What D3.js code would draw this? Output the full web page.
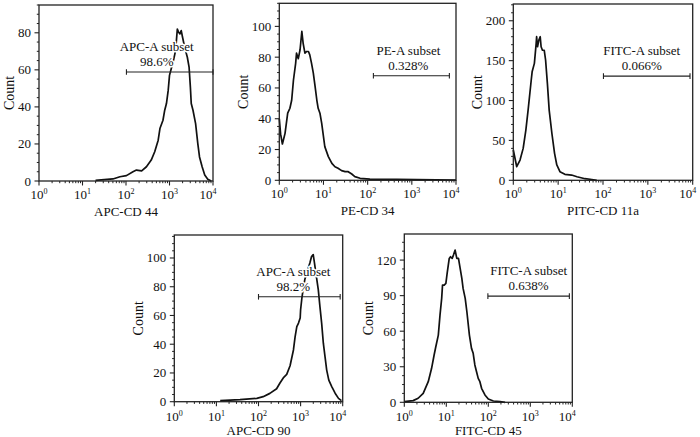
<!DOCTYPE html>
<html>
<head>
<meta charset="utf-8">
<script src="https://cdn.jsdelivr.net/npm/d3@7"></script>
<style>
  html, body { margin: 0; padding: 0; background: #fff; }
  svg { display: block; }
  text { font-family: "Liberation Serif", "Times New Roman", serif; fill: #111; }
</style>
</head>
<body>
<svg id="chart" width="700" height="437"></svg>
<script>
// ---------------- DATA ----------------
const panelTitles = ["APC-CD 44", "PE-CD 34", "PITC-CD 11a", "APC-CD 90", "FITC-CD 45"];
const yLabel = "Count";
const xTickExponents = [0, 1, 2, 3, 4];

const yTicksCD44 = [0, 20, 40, 60, 80];
const yTicksCD34 = [0, 20, 40, 60, 80, 100];
const yTicksCD11a = [0, 50, 100, 150, 200];
const yTicksCD90 = [0, 20, 40, 60, 80, 100];
const yTicksCD45 = [0, 30, 60, 90, 120];

// histogram: log10 intensity and counts
const cd44Exp = [1.30, 1.70, 1.86, 2.01, 2.16, 2.24, 2.36, 2.47, 2.58, 2.66, 2.74, 2.78, 2.85, 2.89, 2.93, 2.97, 3.00, 3.04, 3.09, 3.14, 3.18, 3.21, 3.24, 3.27, 3.30, 3.35, 3.41, 3.45, 3.48, 3.50, 3.54, 3.60, 3.65, 3.69, 3.75, 3.81, 3.88, 3.96];
const cd44Count = [0.3, 1.1, 2.3, 2.9, 5.0, 5.9, 5.5, 7.7, 11.3, 15.8, 22, 28.3, 32.8, 38.2, 41.8, 48.9, 57, 60.6, 65, 70.4, 82, 80.3, 79.4, 81.2, 77.6, 72, 66.8, 61.5, 50.7, 41.8, 38.2, 31, 20.3, 13, 7.7, 3.2, 0.9, 0];

const cd34Exp = [0.00, 0.03, 0.07, 0.13, 0.19, 0.24, 0.28, 0.32, 0.37, 0.39, 0.43, 0.47, 0.51, 0.54, 0.58, 0.62, 0.66, 0.69, 0.73, 0.77, 0.81, 0.85, 0.88, 0.92, 0.96, 1.00, 1.03, 1.11, 1.19, 1.26, 1.33, 1.41, 1.49, 1.56, 1.64, 1.71, 1.83, 2.05, 2.66, 4.00];
const cd34Count = [40, 30, 23.6, 30.5, 43.6, 46.8, 52, 65, 76, 82.6, 79, 84.8, 96.7, 89, 82.6, 83.7, 83.7, 81.5, 76, 69.6, 61, 52, 46.8, 43.6, 37, 28.4, 21.9, 15.4, 11, 8.8, 7.8, 6.3, 5.6, 5.6, 4.1, 2.4, 1.3, 0.8, 0.6, 0.2];

const cd11aExp = [0.00, 0.076, 0.15, 0.22, 0.28, 0.33, 0.40, 0.42, 0.47, 0.51, 0.52, 0.54, 0.57, 0.60, 0.62, 0.65, 0.69, 0.72, 0.76, 0.80, 0.86, 0.92, 0.97, 1.04, 1.15, 1.30, 1.42, 1.60, 1.75, 1.86];
const cd11aCount = [38, 17, 25.4, 40, 63, 88, 125.7, 136, 146.6, 171.7, 180, 167.4, 175.8, 180, 167.4, 163, 163, 150.8, 121.5, 88, 59, 33.8, 19.2, 10.8, 7.5, 6.6, 4.5, 2, 1, 0];

const cd90Exp = [1.09, 1.56, 1.96, 2.11, 2.27, 2.43, 2.51, 2.60, 2.67, 2.75, 2.83, 2.87, 2.91, 2.95, 2.99, 3.00, 3.03, 3.06, 3.10, 3.16, 3.22, 3.26, 3.30, 3.33, 3.37, 3.42, 3.46, 3.50, 3.54, 3.58, 3.62, 3.67, 3.74, 3.82, 3.90, 3.97];
const cd90Count = [0.7, 1.4, 2.3, 3.5, 5.8, 9, 13, 17, 19, 25, 36, 45.3, 52.3, 54.7, 58.2, 64, 72, 78, 85, 91, 96.5, 101, 102.3, 96.5, 88, 78, 66, 54.7, 40.7, 31.4, 22, 15, 10.5, 5.9, 2.3, 0.7];

const cd45Exp = [0.00, 0.21, 0.33, 0.45, 0.57, 0.65, 0.71, 0.75, 0.81, 0.85, 0.89, 0.91, 0.95, 0.99, 1.02, 1.07, 1.10, 1.14, 1.17, 1.21, 1.25, 1.29, 1.33, 1.37, 1.40, 1.45, 1.49, 1.55, 1.60, 1.64, 1.68, 1.72, 1.76, 1.80, 1.84, 1.92, 2.00, 2.12, 2.28, 2.40];
const cd45Count = [0.5, 1.4, 3.4, 7.6, 17.4, 28.7, 39.9, 46.9, 56.7, 73.6, 87.7, 98.9, 98.9, 100.3, 108.8, 121.4, 122.8, 121.4, 124.2, 128.4, 121.4, 121.4, 113, 104.6, 96.1, 87.7, 76.4, 56.7, 45.5, 41.3, 31.5, 25.8, 20.2, 17.4, 11.8, 6.2, 2.8, 1.1, 0.5, 0];

// gates (log10 bounds and count level)
const gateNames = ["APC-A subset", "PE-A subset", "FITC-A subset", "APC-A subset", "FITC-A subset"];
const gatePercents = ["98.6%", "0.328%", "0.066%", "98.2%", "0.638%"];
const gateLowExp = [2.01, 2.13, 2.01, 2.00, 1.99];
const gateHighExp = [4.00, 3.85, 3.94, 3.94, 3.93];
const gateLevel = [58.8, 67.9, 130.6, 73, 89.6];

// ---------------- LAYOUT (positions / styles) ----------------
const layout = [
  { left: 39,    top: 5,   right: 213,   bottom: 181,   yMax: 95,  minor: 5,   row: 0, labelDx: -13 },
  { left: 279.3, top: 3.3, right: 456,   bottom: 180.3, yMax: 115, minor: 5,   row: 0, labelDx: -3 },
  { left: 513.3, top: 4,   right: 692.7, bottom: 180.3, yMax: 221, minor: 10,  row: 0, labelDx: -5 },
  { left: 174.3, top: 235, right: 342.7, bottom: 401.7, yMax: 116, minor: 5,   row: 1, labelDx: -6 },
  { left: 404.3, top: 234, right: 572.3, bottom: 402.3, yMax: 142, minor: 7.5, row: 1, labelDx: 0 }
];
const rowStyle = [
  { tickBase: 18, titleBase: 35 },
  { tickBase: 19, titleBase: 33 }
];

const series = [
  { exp: cd44Exp, count: cd44Count, yTicks: yTicksCD44 },
  { exp: cd34Exp, count: cd34Count, yTicks: yTicksCD34 },
  { exp: cd11aExp, count: cd11aCount, yTicks: yTicksCD11a },
  { exp: cd90Exp, count: cd90Count, yTicks: yTicksCD90 },
  { exp: cd45Exp, count: cd45Count, yTicks: yTicksCD45 }
];

const svg = d3.select("#chart");
const FONT = 13;

series.forEach((s, i) => {
  const L = layout[i];
  const R = rowStyle[L.row];
  const g = svg.append("g");

  const x = d3.scaleLog().domain([1, 1e4]).range([L.left, L.right]);
  const y = d3.scaleLinear().domain([0, L.yMax]).range([L.bottom, L.top]);

  // minor y ticks
  const minorY = d3.range(0, L.yMax + 0.001, L.minor).filter(v => !s.yTicks.includes(v));
  g.selectAll(".ymin").data(minorY).enter().append("line")
    .attr("x1", L.left - 2.2).attr("x2", L.left)
    .attr("y1", d => y(d)).attr("y2", d => y(d))
    .attr("stroke", "#222").attr("stroke-width", 1);
  // major y ticks
  g.selectAll(".ymaj").data(s.yTicks).enter().append("line")
    .attr("x1", L.left - 4.5).attr("x2", L.left)
    .attr("y1", d => y(d)).attr("y2", d => y(d))
    .attr("stroke", "#222").attr("stroke-width", 1.1);
  const yl = g.selectAll(".ylab").data(s.yTicks).enter().append("text")
    .attr("x", L.left - 8).attr("y", d => y(d) + 4.5)
    .attr("text-anchor", "end").attr("font-size", FONT)
    .text(d => d);
  let maxW = 0;
  yl.each(function () { maxW = Math.max(maxW, this.getBBox().width); });

  // minor x ticks (log)
  const minorX = [];
  for (let e = 0; e < 4; e++) for (let k = 2; k <= 9; k++) minorX.push(k * Math.pow(10, e));
  g.selectAll(".xmin").data(minorX).enter().append("line")
    .attr("x1", d => x(d)).attr("x2", d => x(d))
    .attr("y1", L.bottom).attr("y2", L.bottom + 2.2)
    .attr("stroke", "#222").attr("stroke-width", 1);
  g.selectAll(".xmaj").data(xTickExponents).enter().append("line")
    .attr("x1", d => x(Math.pow(10, d))).attr("x2", d => x(Math.pow(10, d)))
    .attr("y1", L.bottom).attr("y2", L.bottom + 4.5)
    .attr("stroke", "#222").attr("stroke-width", 1.1);
  const xl = g.selectAll(".xlab").data(xTickExponents).enter().append("text")
    .attr("x", (d, j) => x(Math.pow(10, d)) + (j === xTickExponents.length - 1 ? -5 : 0))
    .attr("y", L.bottom + R.tickBase)
    .attr("text-anchor", "middle").attr("font-size", FONT);
  xl.append("tspan").text("10");
  xl.append("tspan").attr("font-size", 8).attr("dy", -5).text(d => d);

  // histogram curve
  const pts = s.exp.map((e, j) => [x(Math.pow(10, e)), y(s.count[j])]);
  g.append("path")
    .attr("d", d3.line().curve(d3.curveLinear)(pts))
    .attr("fill", "none").attr("stroke", "#111").attr("stroke-width", 1.7)
    .attr("stroke-linejoin", "round");

  // frame
  g.append("rect")
    .attr("x", L.left).attr("y", L.top)
    .attr("width", L.right - L.left).attr("height", L.bottom - L.top)
    .attr("fill", "none").attr("stroke", "#222").attr("stroke-width", 1.3);

  // gate
  const gx1 = x(Math.pow(10, gateLowExp[i])), gx2 = x(Math.pow(10, gateHighExp[i]));
  const gy = y(gateLevel[i]);
  const cx = (gx1 + gx2) / 2 + L.labelDx;
  [gateNames[i], gatePercents[i]].forEach((t, k) => {
    g.append("text")
      .attr("x", cx).attr("y", gy - (k === 0 ? 21 : 6))
      .attr("text-anchor", "middle").attr("font-size", FONT)
      .attr("stroke", "#fff").attr("stroke-width", 3).attr("paint-order", "stroke")
      .attr("stroke-linejoin", "round")
      .text(t);
  });
  g.append("line").attr("x1", gx1).attr("x2", gx2).attr("y1", gy).attr("y2", gy)
    .attr("stroke", "#222").attr("stroke-width", 1.1);
  [gx1, gx2].forEach(px => {
    g.append("line").attr("x1", px).attr("x2", px).attr("y1", gy - 2.8).attr("y2", gy + 2.8)
      .attr("stroke", "#222").attr("stroke-width", 1.1);
  });

  // axis titles
  g.append("text")
    .attr("x", (L.left + L.right) / 2).attr("y", L.bottom + R.titleBase)
    .attr("text-anchor", "middle").attr("font-size", FONT)
    .text(panelTitles[i]);
  const cxl = L.left - 8 - maxW - 9;
  const cyl = (L.top + L.bottom) / 2;
  g.append("text")
    .attr("transform", `translate(${cxl + 5},${cyl}) rotate(-90)`)
    .attr("text-anchor", "middle").attr("font-size", 14)
    .text(yLabel);
});
</script>
</body>
</html>
